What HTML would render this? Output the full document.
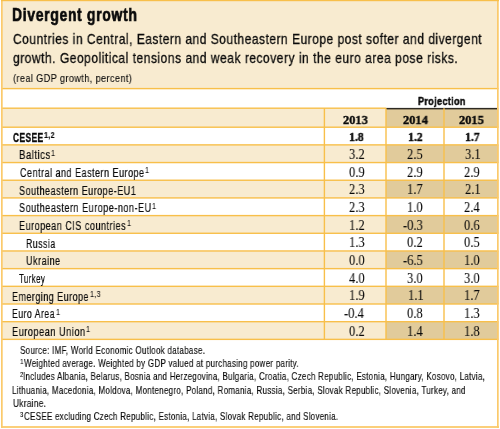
<!DOCTYPE html>
<html><head><meta charset="utf-8"><style>
html,body{margin:0;padding:0;width:500px;height:429px;overflow:hidden;background:#fff}
svg{position:absolute;left:0;top:0}
.t{position:absolute;white-space:pre;line-height:1;color:#0a0a0a;transform-origin:0 0;will-change:transform}
</style></head><body>
<svg width="500" height="429" viewBox="0 0 500 429"><rect x="0" y="0" width="500" height="429" fill="#fff"/><rect x="1" y="0" width="497.5" height="88.6" fill="#f8ebd0"/><rect x="1" y="108.2" width="497.5" height="19.00" fill="#f8ebd0"/><rect x="386" y="108.2" width="112.5" height="19.00" fill="#e1cb9b"/><rect x="1" y="144.88" width="497.5" height="17.68" fill="#f8ebd0"/><rect x="386" y="144.88" width="112.5" height="17.68" fill="#e1cb9b"/><rect x="1" y="180.24" width="497.5" height="17.68" fill="#f8ebd0"/><rect x="386" y="180.24" width="112.5" height="17.68" fill="#e1cb9b"/><rect x="1" y="215.60" width="497.5" height="17.68" fill="#f8ebd0"/><rect x="386" y="215.60" width="112.5" height="17.68" fill="#e1cb9b"/><rect x="1" y="250.96" width="497.5" height="17.68" fill="#f8ebd0"/><rect x="386" y="250.96" width="112.5" height="17.68" fill="#e1cb9b"/><rect x="1" y="286.32" width="497.5" height="17.68" fill="#f8ebd0"/><rect x="386" y="286.32" width="112.5" height="17.68" fill="#e1cb9b"/><rect x="1" y="321.68" width="497.5" height="17.68" fill="#f8ebd0"/><rect x="386" y="321.68" width="112.5" height="17.68" fill="#e1cb9b"/><rect x="1" y="87.90" width="497.5" height="1.4" fill="#f8bf4a"/><rect x="1" y="107.50" width="385" height="1.4" fill="#f8bf4a"/><rect x="386" y="107.9" width="112" height="1.5" fill="#2e2a22"/><rect x="1" y="126.50" width="497.5" height="1.4" fill="#f8bf4a"/><rect x="1" y="144.18" width="497.5" height="1.4" fill="#f8bf4a"/><rect x="1" y="161.86" width="497.5" height="1.4" fill="#f8bf4a"/><rect x="1" y="179.54" width="497.5" height="1.4" fill="#f8bf4a"/><rect x="1" y="197.22" width="497.5" height="1.4" fill="#f8bf4a"/><rect x="1" y="214.90" width="497.5" height="1.4" fill="#f8bf4a"/><rect x="1" y="232.58" width="497.5" height="1.4" fill="#f8bf4a"/><rect x="1" y="250.26" width="497.5" height="1.4" fill="#f8bf4a"/><rect x="1" y="267.94" width="497.5" height="1.4" fill="#f8bf4a"/><rect x="1" y="285.62" width="497.5" height="1.4" fill="#f8bf4a"/><rect x="1" y="303.30" width="497.5" height="1.4" fill="#f8bf4a"/><rect x="1" y="320.98" width="497.5" height="1.4" fill="#f8bf4a"/><rect x="1" y="338.66" width="497.5" height="1.4" fill="#f8bf4a"/><rect x="323.70" y="108.2" width="1.4" height="231.16" fill="#f8bf4a"/><rect x="385.30" y="108.2" width="1.4" height="231.16" fill="#f8bf4a"/><rect x="443.30" y="108.2" width="1.4" height="231.16" fill="#f8bf4a"/><rect x="1" y="0" width="1.7" height="428" fill="#fbca6c"/><rect x="497" y="0" width="1.7" height="428" fill="#fbca6c"/><rect x="1" y="0" width="498" height="1.2" fill="#f8bf4a"/><rect x="1" y="426.1" width="498" height="1.8" fill="#fbca6c"/></svg>
<div class="t" style="left:12.46px;top:6.30px;font-family:'Liberation Sans', sans-serif;font-weight:700;font-size:18.8px;letter-spacing:1.0px;transform:scaleX(0.7369);-webkit-text-stroke:0.7px #0a0a0a">Divergent growth</div>
<div class="t" style="left:13.00px;top:32.00px;font-family:'Liberation Sans', sans-serif;font-weight:400;font-size:14.5px;letter-spacing:0.6px;transform:scaleX(0.8281);-webkit-text-stroke:0.3px #0a0a0a">Countries in Central, Eastern and Southeastern Europe post softer and divergent</div>
<div class="t" style="left:13.00px;top:51.40px;font-family:'Liberation Sans', sans-serif;font-weight:400;font-size:14.5px;letter-spacing:0.6px;transform:scaleX(0.8311);-webkit-text-stroke:0.3px #0a0a0a">growth. Geopolitical tensions and weak recovery in the euro area pose risks.</div>
<div class="t" style="left:13.00px;top:72.80px;font-family:'Liberation Sans', sans-serif;font-weight:400;font-size:10.8px;letter-spacing:0.4px;transform:scaleX(0.8561);-webkit-text-stroke:0.1px #0a0a0a">(real GDP growth, percent)</div>
<div class="t" style="left:418.40px;top:95.60px;font-family:'Liberation Sans', sans-serif;font-weight:700;font-size:11.4px;letter-spacing:0.4px;transform:scaleX(0.8000);-webkit-text-stroke:0.45px #0a0a0a">Projection</div>
<div class="t" style="left:342.90px;top:113.70px;font-family:'Liberation Serif', serif;font-weight:700;font-size:12.6px;letter-spacing:0px;transform:scaleX(0.9840);-webkit-text-stroke:0.4px #0a0a0a">2013</div>
<div class="t" style="left:402.70px;top:113.70px;font-family:'Liberation Serif', serif;font-weight:700;font-size:12.6px;letter-spacing:0px;transform:scaleX(0.9840);-webkit-text-stroke:0.4px #0a0a0a">2014</div>
<div class="t" style="left:458.70px;top:113.70px;font-family:'Liberation Serif', serif;font-weight:700;font-size:12.6px;letter-spacing:0px;transform:scaleX(0.9840);-webkit-text-stroke:0.4px #0a0a0a">2015</div>
<div class="t" style="left:13.00px;top:131.60px;font-family:'Liberation Sans', sans-serif;font-weight:700;font-size:12px;letter-spacing:0.65px;transform:scaleX(0.6977);-webkit-text-stroke:0.35px #0a0a0a">CESEE</div>
<div class="t" style="left:43.60px;top:131.00px;font-family:'Liberation Sans', sans-serif;font-weight:700;font-size:8.5px;letter-spacing:0.3px;transform:scaleX(0.8500);-webkit-text-stroke:0.15px #0a0a0a">1,2</div>
<div class="t" style="left:349.35px;top:131.40px;font-family:'Liberation Serif', serif;font-weight:700;font-size:12.4px;letter-spacing:0px;transform:scaleX(0.9500);-webkit-text-stroke:0.4px #0a0a0a">1.8</div>
<div class="t" style="left:407.95px;top:131.40px;font-family:'Liberation Serif', serif;font-weight:700;font-size:12.4px;letter-spacing:0px;transform:scaleX(0.9500);-webkit-text-stroke:0.4px #0a0a0a">1.2</div>
<div class="t" style="left:464.60px;top:131.40px;font-family:'Liberation Serif', serif;font-weight:700;font-size:12.4px;letter-spacing:0px;transform:scaleX(0.9500);-webkit-text-stroke:0.4px #0a0a0a">1.7</div>
<div class="t" style="left:19.00px;top:149.28px;font-family:'Liberation Sans', sans-serif;font-weight:400;font-size:12px;letter-spacing:0.65px;transform:scaleX(0.7974);-webkit-text-stroke:0.2px #0a0a0a">Baltics</div>
<div class="t" style="left:50.50px;top:148.68px;font-family:'Liberation Sans', sans-serif;font-weight:400;font-size:8.5px;letter-spacing:0.3px;transform:scaleX(0.8500);-webkit-text-stroke:0.05px #0a0a0a">1</div>
<div class="t" style="left:348.85px;top:146.98px;font-family:'Liberation Serif', serif;font-weight:400;font-size:14.3px;letter-spacing:0px;transform:scaleX(0.8750);-webkit-text-stroke:0.06px #0a0a0a">3.2</div>
<div class="t" style="left:406.95px;top:146.98px;font-family:'Liberation Serif', serif;font-weight:400;font-size:14.3px;letter-spacing:0px;transform:scaleX(0.8750);-webkit-text-stroke:0.06px #0a0a0a">2.5</div>
<div class="t" style="left:464.82px;top:146.98px;font-family:'Liberation Serif', serif;font-weight:400;font-size:14.3px;letter-spacing:0px;transform:scaleX(0.8750);-webkit-text-stroke:0.06px #0a0a0a">3.1</div>
<div class="t" style="left:20.00px;top:166.96px;font-family:'Liberation Sans', sans-serif;font-weight:400;font-size:12px;letter-spacing:0.65px;transform:scaleX(0.7521);-webkit-text-stroke:0.2px #0a0a0a">Central and Eastern Europe</div>
<div class="t" style="left:145.10px;top:166.36px;font-family:'Liberation Sans', sans-serif;font-weight:400;font-size:8.5px;letter-spacing:0.3px;transform:scaleX(0.8500);-webkit-text-stroke:0.05px #0a0a0a">1</div>
<div class="t" style="left:348.85px;top:164.66px;font-family:'Liberation Serif', serif;font-weight:400;font-size:14.3px;letter-spacing:0px;transform:scaleX(0.8750);-webkit-text-stroke:0.06px #0a0a0a">0.9</div>
<div class="t" style="left:406.95px;top:164.66px;font-family:'Liberation Serif', serif;font-weight:400;font-size:14.3px;letter-spacing:0px;transform:scaleX(0.8750);-webkit-text-stroke:0.06px #0a0a0a">2.9</div>
<div class="t" style="left:463.95px;top:164.66px;font-family:'Liberation Serif', serif;font-weight:400;font-size:14.3px;letter-spacing:0px;transform:scaleX(0.8750);-webkit-text-stroke:0.06px #0a0a0a">2.9</div>
<div class="t" style="left:19.15px;top:184.64px;font-family:'Liberation Sans', sans-serif;font-weight:400;font-size:12px;letter-spacing:0.65px;transform:scaleX(0.7532);-webkit-text-stroke:0.2px #0a0a0a">Southeastern Europe-EU1</div>
<div class="t" style="left:348.85px;top:182.34px;font-family:'Liberation Serif', serif;font-weight:400;font-size:14.3px;letter-spacing:0px;transform:scaleX(0.8750);-webkit-text-stroke:0.06px #0a0a0a">2.3</div>
<div class="t" style="left:406.95px;top:182.34px;font-family:'Liberation Serif', serif;font-weight:400;font-size:14.3px;letter-spacing:0px;transform:scaleX(0.8750);-webkit-text-stroke:0.06px #0a0a0a">1.7</div>
<div class="t" style="left:464.82px;top:182.34px;font-family:'Liberation Serif', serif;font-weight:400;font-size:14.3px;letter-spacing:0px;transform:scaleX(0.8750);-webkit-text-stroke:0.06px #0a0a0a">2.1</div>
<div class="t" style="left:19.14px;top:202.32px;font-family:'Liberation Sans', sans-serif;font-weight:400;font-size:12px;letter-spacing:0.65px;transform:scaleX(0.7578);-webkit-text-stroke:0.2px #0a0a0a">Southeastern Europe-non-EU</div>
<div class="t" style="left:151.80px;top:201.72px;font-family:'Liberation Sans', sans-serif;font-weight:400;font-size:8.5px;letter-spacing:0.3px;transform:scaleX(0.8500);-webkit-text-stroke:0.05px #0a0a0a">1</div>
<div class="t" style="left:348.85px;top:200.02px;font-family:'Liberation Serif', serif;font-weight:400;font-size:14.3px;letter-spacing:0px;transform:scaleX(0.8750);-webkit-text-stroke:0.06px #0a0a0a">2.3</div>
<div class="t" style="left:406.95px;top:200.02px;font-family:'Liberation Serif', serif;font-weight:400;font-size:14.3px;letter-spacing:0px;transform:scaleX(0.8750);-webkit-text-stroke:0.06px #0a0a0a">1.0</div>
<div class="t" style="left:463.95px;top:200.02px;font-family:'Liberation Serif', serif;font-weight:400;font-size:14.3px;letter-spacing:0px;transform:scaleX(0.8750);-webkit-text-stroke:0.06px #0a0a0a">2.4</div>
<div class="t" style="left:19.14px;top:220.00px;font-family:'Liberation Sans', sans-serif;font-weight:400;font-size:12px;letter-spacing:0.65px;transform:scaleX(0.7557);-webkit-text-stroke:0.2px #0a0a0a">European CIS countries</div>
<div class="t" style="left:126.50px;top:219.40px;font-family:'Liberation Sans', sans-serif;font-weight:400;font-size:8.5px;letter-spacing:0.3px;transform:scaleX(0.8500);-webkit-text-stroke:0.05px #0a0a0a">1</div>
<div class="t" style="left:348.85px;top:217.70px;font-family:'Liberation Serif', serif;font-weight:400;font-size:14.3px;letter-spacing:0px;transform:scaleX(0.8750);-webkit-text-stroke:0.06px #0a0a0a">1.2</div>
<div class="t" style="left:403.45px;top:217.70px;font-family:'Liberation Serif', serif;font-weight:400;font-size:14.3px;letter-spacing:0px;transform:scaleX(0.8750);-webkit-text-stroke:0.06px #0a0a0a">-0.3</div>
<div class="t" style="left:463.95px;top:217.70px;font-family:'Liberation Serif', serif;font-weight:400;font-size:14.3px;letter-spacing:0px;transform:scaleX(0.8750);-webkit-text-stroke:0.06px #0a0a0a">0.6</div>
<div class="t" style="left:26.27px;top:237.68px;font-family:'Liberation Sans', sans-serif;font-weight:400;font-size:12px;letter-spacing:0.65px;transform:scaleX(0.7308);-webkit-text-stroke:0.2px #0a0a0a">Russia</div>
<div class="t" style="left:348.85px;top:235.38px;font-family:'Liberation Serif', serif;font-weight:400;font-size:14.3px;letter-spacing:0px;transform:scaleX(0.8750);-webkit-text-stroke:0.06px #0a0a0a">1.3</div>
<div class="t" style="left:406.95px;top:235.38px;font-family:'Liberation Serif', serif;font-weight:400;font-size:14.3px;letter-spacing:0px;transform:scaleX(0.8750);-webkit-text-stroke:0.06px #0a0a0a">0.2</div>
<div class="t" style="left:463.95px;top:235.38px;font-family:'Liberation Serif', serif;font-weight:400;font-size:14.3px;letter-spacing:0px;transform:scaleX(0.8750);-webkit-text-stroke:0.06px #0a0a0a">0.5</div>
<div class="t" style="left:26.25px;top:255.36px;font-family:'Liberation Sans', sans-serif;font-weight:400;font-size:12px;letter-spacing:0.65px;transform:scaleX(0.7545);-webkit-text-stroke:0.2px #0a0a0a">Ukraine</div>
<div class="t" style="left:348.85px;top:253.06px;font-family:'Liberation Serif', serif;font-weight:400;font-size:14.3px;letter-spacing:0px;transform:scaleX(0.8750);-webkit-text-stroke:0.06px #0a0a0a">0.0</div>
<div class="t" style="left:403.45px;top:253.06px;font-family:'Liberation Serif', serif;font-weight:400;font-size:14.3px;letter-spacing:0px;transform:scaleX(0.8750);-webkit-text-stroke:0.06px #0a0a0a">-6.5</div>
<div class="t" style="left:463.95px;top:253.06px;font-family:'Liberation Serif', serif;font-weight:400;font-size:14.3px;letter-spacing:0px;transform:scaleX(0.8750);-webkit-text-stroke:0.06px #0a0a0a">1.0</div>
<div class="t" style="left:19.10px;top:273.04px;font-family:'Liberation Sans', sans-serif;font-weight:400;font-size:12px;letter-spacing:0.65px;transform:scaleX(0.6525);-webkit-text-stroke:0.2px #0a0a0a">Turkey</div>
<div class="t" style="left:348.85px;top:270.74px;font-family:'Liberation Serif', serif;font-weight:400;font-size:14.3px;letter-spacing:0px;transform:scaleX(0.8750);-webkit-text-stroke:0.06px #0a0a0a">4.0</div>
<div class="t" style="left:406.95px;top:270.74px;font-family:'Liberation Serif', serif;font-weight:400;font-size:14.3px;letter-spacing:0px;transform:scaleX(0.8750);-webkit-text-stroke:0.06px #0a0a0a">3.0</div>
<div class="t" style="left:463.95px;top:270.74px;font-family:'Liberation Serif', serif;font-weight:400;font-size:14.3px;letter-spacing:0px;transform:scaleX(0.8750);-webkit-text-stroke:0.06px #0a0a0a">3.0</div>
<div class="t" style="left:12.15px;top:290.72px;font-family:'Liberation Sans', sans-serif;font-weight:400;font-size:12px;letter-spacing:0.65px;transform:scaleX(0.7465);-webkit-text-stroke:0.2px #0a0a0a">Emerging Europe</div>
<div class="t" style="left:89.70px;top:290.12px;font-family:'Liberation Sans', sans-serif;font-weight:400;font-size:8.5px;letter-spacing:0.3px;transform:scaleX(0.8500);-webkit-text-stroke:0.05px #0a0a0a">1,3</div>
<div class="t" style="left:348.85px;top:288.42px;font-family:'Liberation Serif', serif;font-weight:400;font-size:14.3px;letter-spacing:0px;transform:scaleX(0.8750);-webkit-text-stroke:0.06px #0a0a0a">1.9</div>
<div class="t" style="left:407.82px;top:288.42px;font-family:'Liberation Serif', serif;font-weight:400;font-size:14.3px;letter-spacing:0px;transform:scaleX(0.8750);-webkit-text-stroke:0.06px #0a0a0a">1.1</div>
<div class="t" style="left:463.95px;top:288.42px;font-family:'Liberation Serif', serif;font-weight:400;font-size:14.3px;letter-spacing:0px;transform:scaleX(0.8750);-webkit-text-stroke:0.06px #0a0a0a">1.7</div>
<div class="t" style="left:12.17px;top:308.40px;font-family:'Liberation Sans', sans-serif;font-weight:400;font-size:12px;letter-spacing:0.65px;transform:scaleX(0.7259);-webkit-text-stroke:0.2px #0a0a0a">Euro Area</div>
<div class="t" style="left:55.60px;top:307.80px;font-family:'Liberation Sans', sans-serif;font-weight:400;font-size:8.5px;letter-spacing:0.3px;transform:scaleX(0.8500);-webkit-text-stroke:0.05px #0a0a0a">1</div>
<div class="t" style="left:344.48px;top:306.10px;font-family:'Liberation Serif', serif;font-weight:400;font-size:14.3px;letter-spacing:0px;transform:scaleX(0.8750);-webkit-text-stroke:0.06px #0a0a0a">-0.4</div>
<div class="t" style="left:406.95px;top:306.10px;font-family:'Liberation Serif', serif;font-weight:400;font-size:14.3px;letter-spacing:0px;transform:scaleX(0.8750);-webkit-text-stroke:0.06px #0a0a0a">0.8</div>
<div class="t" style="left:463.95px;top:306.10px;font-family:'Liberation Serif', serif;font-weight:400;font-size:14.3px;letter-spacing:0px;transform:scaleX(0.8750);-webkit-text-stroke:0.06px #0a0a0a">1.3</div>
<div class="t" style="left:12.13px;top:326.08px;font-family:'Liberation Sans', sans-serif;font-weight:400;font-size:12px;letter-spacing:0.65px;transform:scaleX(0.7681);-webkit-text-stroke:0.2px #0a0a0a">European Union</div>
<div class="t" style="left:85.80px;top:325.48px;font-family:'Liberation Sans', sans-serif;font-weight:400;font-size:8.5px;letter-spacing:0.3px;transform:scaleX(0.8500);-webkit-text-stroke:0.05px #0a0a0a">1</div>
<div class="t" style="left:348.85px;top:323.78px;font-family:'Liberation Serif', serif;font-weight:400;font-size:14.3px;letter-spacing:0px;transform:scaleX(0.8750);-webkit-text-stroke:0.06px #0a0a0a">0.2</div>
<div class="t" style="left:406.95px;top:323.78px;font-family:'Liberation Serif', serif;font-weight:400;font-size:14.3px;letter-spacing:0px;transform:scaleX(0.8750);-webkit-text-stroke:0.06px #0a0a0a">1.4</div>
<div class="t" style="left:463.95px;top:323.78px;font-family:'Liberation Serif', serif;font-weight:400;font-size:14.3px;letter-spacing:0px;transform:scaleX(0.8750);-webkit-text-stroke:0.06px #0a0a0a">1.8</div>
<div class="t" style="left:20.00px;top:346.00px;font-family:'Liberation Sans', sans-serif;font-weight:400;font-size:10.4px;letter-spacing:0.35px;transform:scaleX(0.7728);-webkit-text-stroke:0.15px #0a0a0a">Source: IMF, World Economic Outlook database.</div>
<div class="t" style="left:19.70px;top:357.90px;font-family:'Liberation Sans', sans-serif;font-weight:400;font-size:8px;letter-spacing:0px;transform:scaleX(0.8000);-webkit-text-stroke:0.08px #0a0a0a">1</div>
<div class="t" style="left:24.00px;top:359.20px;font-family:'Liberation Sans', sans-serif;font-weight:400;font-size:10.4px;letter-spacing:0.35px;transform:scaleX(0.7702);-webkit-text-stroke:0.15px #0a0a0a">Weighted average. Weighted by GDP valued at purchasing power parity.</div>
<div class="t" style="left:19.80px;top:371.30px;font-family:'Liberation Sans', sans-serif;font-weight:400;font-size:8px;letter-spacing:0px;transform:scaleX(0.7200);-webkit-text-stroke:0.08px #0a0a0a">2</div>
<div class="t" style="left:23.23px;top:372.40px;font-family:'Liberation Sans', sans-serif;font-weight:400;font-size:10.4px;letter-spacing:0.35px;transform:scaleX(0.7694);-webkit-text-stroke:0.15px #0a0a0a">Includes Albania, Belarus, Bosnia and Herzegovina, Bulgaria, Croatia, Czech Republic, Estonia, Hungary, Kosovo, Latvia,</div>
<div class="t" style="left:12.23px;top:385.60px;font-family:'Liberation Sans', sans-serif;font-weight:400;font-size:10.4px;letter-spacing:0.35px;transform:scaleX(0.7704);-webkit-text-stroke:0.15px #0a0a0a">Lithuania, Macedonia, Moldova, Montenegro, Poland, Romania, Russia, Serbia, Slovak Republic, Slovenia, Turkey, and</div>
<div class="t" style="left:13.00px;top:398.80px;font-family:'Liberation Sans', sans-serif;font-weight:400;font-size:10.4px;letter-spacing:0.35px;transform:scaleX(0.8000);-webkit-text-stroke:0.15px #0a0a0a">Ukraine.</div>
<div class="t" style="left:19.90px;top:410.90px;font-family:'Liberation Sans', sans-serif;font-weight:400;font-size:8px;letter-spacing:0px;transform:scaleX(0.7200);-webkit-text-stroke:0.08px #0a0a0a">3</div>
<div class="t" style="left:24.00px;top:412.00px;font-family:'Liberation Sans', sans-serif;font-weight:400;font-size:10.4px;letter-spacing:0.35px;transform:scaleX(0.7700);-webkit-text-stroke:0.15px #0a0a0a">CESEE excluding Czech Republic, Estonia, Latvia, Slovak Republic, and Slovenia.</div>
</body></html>
